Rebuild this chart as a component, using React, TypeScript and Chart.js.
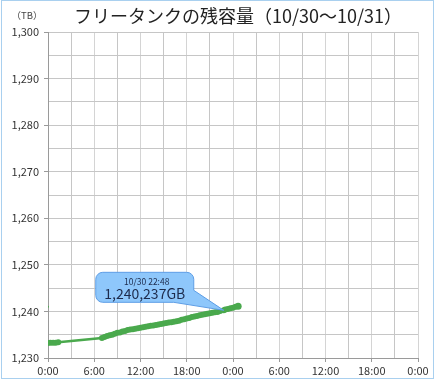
import React, { useEffect, useRef } from "react";
import { Chart, registerables } from "chart.js";

Chart.register(...registerables);

const TITLE = "フリータンクの残容量（10/30～10/31）";
const UNIT = "（TB）";

const timeLabels = [
  "10/30 0:00", "10/30 0:20", "10/30 0:40", "10/30 1:00", "10/30 1:20",
  "10/30 7:00", "10/30 7:20", "10/30 7:40", "10/30 8:00", "10/30 8:20", "10/30 8:40",
  "10/30 9:00", "10/30 9:20", "10/30 9:40", "10/30 10:00", "10/30 10:20", "10/30 10:40",
  "10/30 11:00", "10/30 11:20", "10/30 11:40", "10/30 12:00", "10/30 12:20", "10/30 12:40",
  "10/30 13:00", "10/30 13:20", "10/30 13:40", "10/30 14:00", "10/30 14:20", "10/30 14:40",
  "10/30 15:00", "10/30 15:20", "10/30 15:40", "10/30 16:00", "10/30 16:20", "10/30 16:40",
  "10/30 17:00", "10/30 17:20", "10/30 17:40", "10/30 18:00", "10/30 18:20", "10/30 18:40",
  "10/30 19:00", "10/30 19:20", "10/30 19:40", "10/30 20:00", "10/30 20:20", "10/30 20:40",
  "10/30 21:00", "10/30 21:20", "10/30 21:40", "10/30 22:00", "10/30 22:20", "10/30 22:48",
  "10/30 23:00", "10/30 23:20", "10/30 23:40", "10/31 0:00", "10/31 0:20", "10/31 0:40",
];

const remainingTB = [
  1233.2, 1233.3, 1233.3, 1233.3, 1233.4,
  1234.3, 1234.5, 1234.7, 1234.9, 1235.0, 1235.2,
  1235.4, 1235.5, 1235.7, 1235.8, 1236.0, 1236.1,
  1236.2, 1236.3, 1236.4, 1236.5, 1236.6, 1236.7,
  1236.8, 1236.9, 1237.0, 1237.1, 1237.2, 1237.3,
  1237.4, 1237.5, 1237.6, 1237.7, 1237.8, 1237.9,
  1238.0, 1238.2, 1238.3, 1238.5, 1238.6, 1238.8,
  1238.9, 1239.0, 1239.2, 1239.3, 1239.4, 1239.5,
  1239.6, 1239.7, 1239.8, 1239.9, 1240.1, 1240.237,
  1240.4, 1240.5, 1240.7, 1240.8, 1241.0, 1241.1,
];

const strayLabel = ["10/30 0:00"];
const strayValue = [1241.0];

const calloutTime = "10/30 22:48";
const calloutDate = "10/30 22:48";
const calloutText = "1,240,237GB";

const yMin = 1230;
const yMax = 1300;
const xMaxHours = 48;

const toHours = (s: string) => {
  const [d, t] = s.split(" ");
  const [h, m] = t.split(":").map(Number);
  return (d === "10/31" ? 24 : 0) + h + m / 60;
};

const FONT = "'Noto Sans CJK JP', 'Noto Sans', sans-serif";

export default function App() {
  const ref = useRef<HTMLCanvasElement | null>(null);

  useEffect(() => {
    document.body.style.margin = "0";
    const canvas = ref.current!;
    const points = timeLabels.map((t, i) => ({ x: toHours(t), y: remainingTB[i] }));
    const stray = strayLabel.map((t, i) => ({ x: toHours(t), y: strayValue[i] }));
    const calloutIdx = timeLabels.indexOf(calloutTime);

    const deco = {
      id: "deco",
      beforeDraw(chart: any) {
        const ctx = chart.ctx;
        ctx.save();
        ctx.fillStyle = "#ffffff";
        ctx.fillRect(0, 0, chart.width, chart.height);
        ctx.restore();
      },
      afterDraw(chart: any) {
        const ctx = chart.ctx;
        ctx.save();
        ctx.strokeStyle = "#a9d0ef";
        ctx.lineWidth = 1;
        ctx.strokeRect(1.5, 0.5, chart.width - 3, chart.height - 2);
        ctx.fillStyle = "#222222";
        ctx.font = `18px ${FONT}`;
        ctx.textAlign = "center";
        ctx.textBaseline = "middle";
        ctx.fillText(TITLE, 238, 16);
        ctx.font = `9.5px ${FONT}`;
        ctx.fillStyle = "#444444";
        ctx.fillText(UNIT, 27, 15);

        const meta = chart.getDatasetMeta(0);
        const el = meta.data[calloutIdx];
        if (el) {
          const px = el.x;
          const py = el.y;
          const bx = px - 128;
          const by = py - 38;
          const bw = 98;
          const bh = 30;
          const r = 7;
          ctx.beginPath();
          ctx.moveTo(bx + r, by);
          ctx.lineTo(bx + bw - r, by);
          ctx.arcTo(bx + bw, by, bx + bw, by + r, r);
          ctx.lineTo(bx + bw, by + bh - 12);
          ctx.lineTo(px, py);
          ctx.lineTo(bx + bw - 20, by + bh);
          ctx.lineTo(bx + r, by + bh);
          ctx.arcTo(bx, by + bh, bx, by + bh - r, r);
          ctx.lineTo(bx, by + r);
          ctx.arcTo(bx, by, bx + r, by, r);
          ctx.closePath();
          ctx.fillStyle = "#8ec7fb";
          ctx.fill();
          ctx.strokeStyle = "#5e9ee6";
          ctx.lineWidth = 1;
          ctx.stroke();
          ctx.fillStyle = "#1d2b4c";
          ctx.textAlign = "center";
          ctx.textBaseline = "middle";
          ctx.font = `8.5px ${FONT}`;
          ctx.fillText(calloutDate, bx + bw / 2 + 2, by + 9);
          ctx.font = `14px ${FONT}`;
          ctx.fillText(calloutText, bx + bw / 2, by + 21);
        }
        ctx.restore();
      },
    };

    const chart = new Chart(canvas, {
      type: "line",
      data: {
        datasets: [
          {
            data: points,
            borderColor: "#4aa94d",
            backgroundColor: "#4aa94d",
            borderWidth: 2.5,
            pointRadius: (c: any) => (c.dataIndex === points.length - 1 ? 3.5 : 3),
            pointBorderWidth: 0,
            tension: 0,
          },
          {
            data: stray,
            showLine: false,
            borderColor: "#4aa94d",
            backgroundColor: "#4aa94d",
            pointRadius: 1,
            pointBorderWidth: 0,
          },
        ],
      },
      options: {
        responsive: false,
        animation: false,
        devicePixelRatio: 1,
        layout: { padding: { top: 32, right: 17, left: 0, bottom: 0 } },
        plugins: {
          legend: { display: false },
          tooltip: { enabled: false },
          title: { display: false },
        },
        scales: {
          x: {
            type: "linear",
            min: 0,
            max: xMaxHours,
            afterFit: (s: any) => {
              s.height = 22;
            },
            border: { color: "#9a9a9a" },
            grid: {
              color: (c: any) => (c.tick && c.tick.value % 6 === 0 ? "#d4d4d4" : "#c6c6c6"),
              tickColor: (c: any) => (c.tick && c.tick.value % 6 === 0 ? "#9a9a9a" : "rgba(0,0,0,0)"),
              tickLength: 4,
            },
            ticks: {
              stepSize: 3,
              autoSkip: false,
              maxRotation: 0,
              padding: 2,
              color: "#333333",
              font: { family: FONT, size: 11 },
              callback: (v: any) => (Number(v) % 6 === 0 ? `${Number(v) % 24}:00` : ""),
            },
          },
          y: {
            min: yMin,
            max: yMax,
            afterFit: (s: any) => {
              s.width = 48;
            },
            border: { color: "#9a9a9a" },
            grid: {
              color: "#c6c6c6",
              tickColor: (c: any) => (c.tick && c.tick.value % 10 === 0 ? "#9a9a9a" : "rgba(0,0,0,0)"),
              tickLength: 4,
            },
            ticks: {
              stepSize: 5,
              autoSkip: false,
              padding: 5,
              color: "#333333",
              font: { family: FONT, size: 11 },
              callback: (v: any) =>
                Number(v) % 10 === 0 ? Number(v).toLocaleString("en-US") : "",
            },
          },
        },
      },
      plugins: [deco],
    } as any);

    return () => chart.destroy();
  }, []);

  return <canvas ref={ref} width={435} height={380} style={{ display: "block" }} />;
}
